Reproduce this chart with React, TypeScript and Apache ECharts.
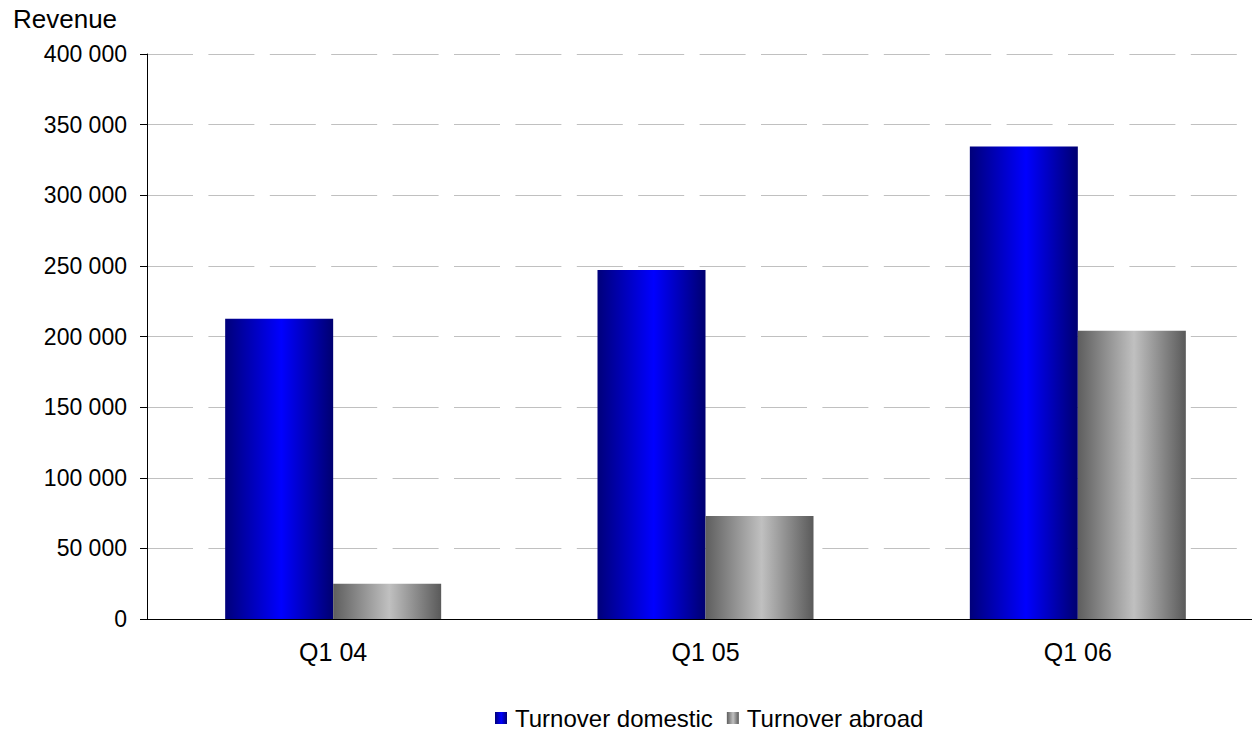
import React, { useEffect, useRef } from "react";
import * as echarts from "echarts";

const categories = ["Q1 04", "Q1 05", "Q1 06"];
const domesticValues = [212500, 247000, 334500];
const abroadValues = [25000, 73000, 204000];
const seriesNames = ["Turnover domestic", "Turnover abroad"];
const axisTitle = "Revenue";

const FONT = 'Arial, "Liberation Sans", sans-serif';

const formatThousands = (v: number) =>
  String(v).replace(/\B(?=(\d{3})+(?!\d))/g, " ");

const barGradient = (edge: string, mid: string, edgeRight: string) =>
  new echarts.graphic.LinearGradient(0, 0, 1, 0, [
    { offset: 0, color: edge },
    { offset: 0.52, color: mid },
    { offset: 1, color: edgeRight },
  ]);

export default function App() {
  const ref = useRef<HTMLDivElement>(null);

  useEffect(() => {
    if (!ref.current) return;
    const chart = echarts.init(ref.current, undefined, { renderer: "svg" });

    chart.setOption({
      animation: false,
      backgroundColor: "#ffffff",
      textStyle: { fontFamily: FONT, color: "#000" },
      grid: {
        left: 147,
        top: 54,
        right: -12,
        bottom: 111,
        containLabel: false,
        outerBoundsMode: "none",
      },
      graphic: [
        {
          type: "text",
          left: 13,
          top: 6,
          style: {
            text: axisTitle,
            font: `26px ${FONT}`,
            fill: "#000",
          },
        },
      ],
      legend: {
        left: 495,
        top: 706,
        itemWidth: 12,
        itemHeight: 12,
        itemGap: 14,
        padding: 0,
        icon: "rect",
        textStyle: {
          fontSize: 24,
          lineHeight: 24,
          fontFamily: FONT,
          color: "#000",
          padding: [0, 0, 0, 3],
        },
        data: seriesNames,
      },
      xAxis: {
        type: "category",
        data: categories,
        axisLine: { lineStyle: { color: "#000", width: 1 } },
        axisTick: { length: 7, lineStyle: { color: "#000" } },
        axisLabel: { fontSize: 25, fontFamily: FONT, color: "#000", margin: 20 },
        splitLine: { show: false },
      },
      yAxis: {
        type: "value",
        min: 0,
        max: 400000,
        interval: 50000,
        axisLine: { show: true, lineStyle: { color: "#000", width: 1 } },
        axisTick: { show: true, length: 7, lineStyle: { color: "#000" } },
        axisLabel: {
          fontSize: 23,
          fontFamily: FONT,
          color: "#000",
          margin: 20,
          formatter: (v: number) => formatThousands(v),
        },
        splitLine: {
          show: true,
          lineStyle: { color: "#c0c0c0", width: 1, type: [46, 15.4] },
        },
      },
      series: [
        {
          name: seriesNames[0],
          type: "bar",
          data: domesticValues,
          barWidth: 108,
          barGap: "0%",
          itemStyle: { color: barGradient("#00007a", "#0000ff", "#000070") },
        },
        {
          name: seriesNames[1],
          type: "bar",
          data: abroadValues,
          barWidth: 108,
          barGap: "0%",
          itemStyle: { color: barGradient("#5e5e5e", "#c0c0c0", "#5a5a5a") },
        },
      ],
    });

    return () => chart.dispose();
  }, []);

  return (
    <div
      ref={ref}
      style={{ position: "absolute", left: 0, top: 0, width: 1252, height: 730 }}
    />
  );
}
